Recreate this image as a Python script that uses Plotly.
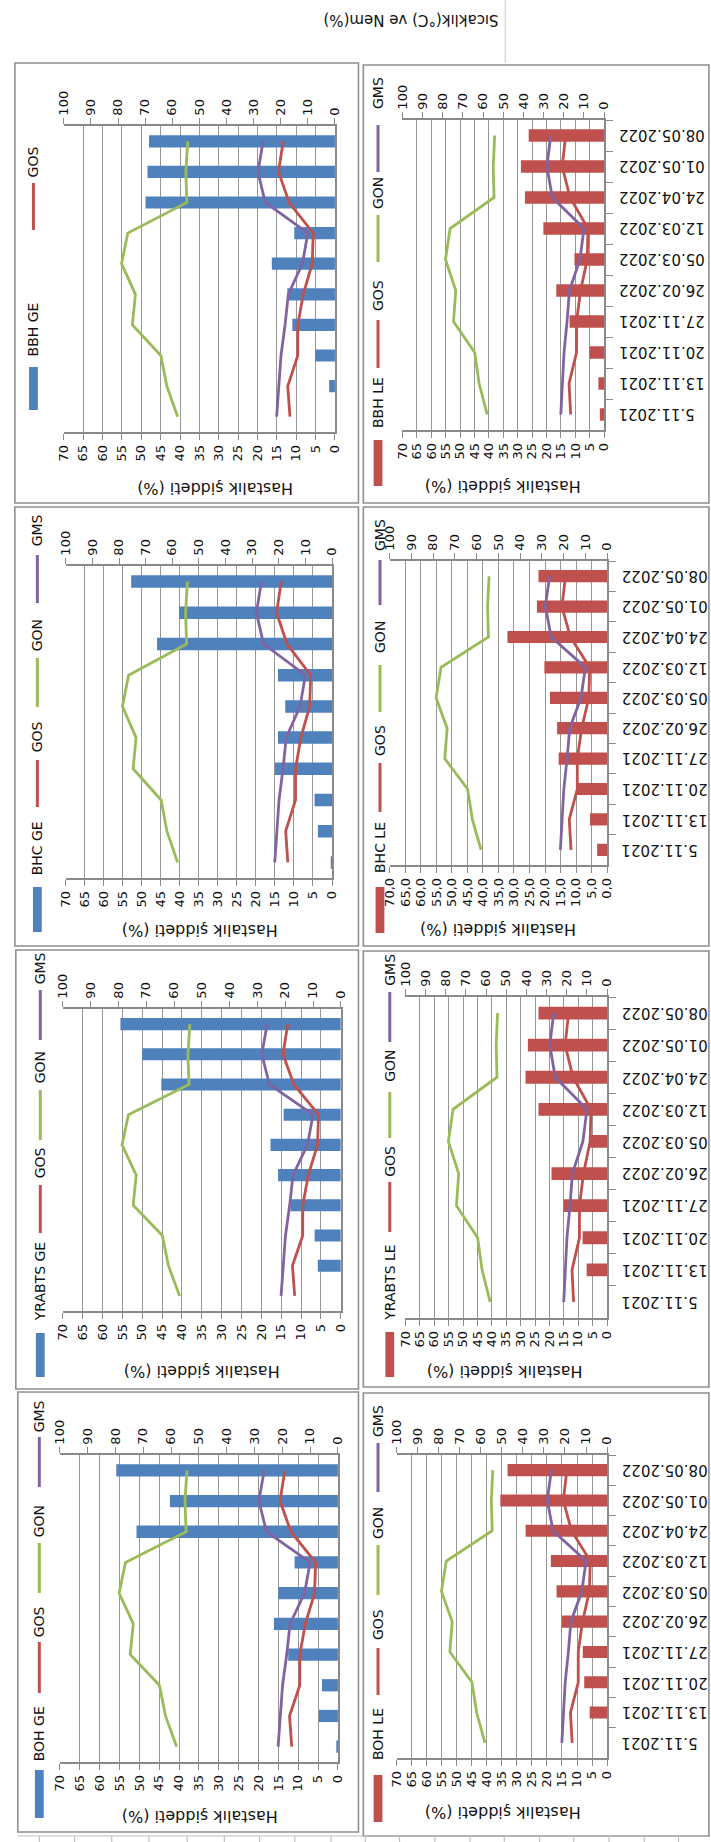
import plotly.graph_objects as go

W, H = 711, 1842

# ---------------- data ----------------
dates = ["5.11.2021", "13.11.2021", "20.11.2021", "27.11.2021", "26.02.2022",
         "05.03.2022", "12.03.2022", "24.04.2022", "01.05.2022", "08.05.2022"]

GOS = [16.6, 17.4, 13.7, 13.7, 11.7, 8.4, 8.0, 16.9, 20.8, 19.1]
GON = [58.0, 62.0, 64.2, 74.7, 73.6, 78.7, 76.4, 54.6, 55.0, 54.3]
GMS = [21.5, 20.8, 19.9, 18.4, 17.2, 12.0, 10.0, 25.7, 28.4, 26.5]

BBH_GE = [0, 1.5, 5.1, 11.0, 12.3, 16.3, 10.5, 48.9, 48.4, 48.0]
BBH_LE = [1.5, 2.0, 5.1, 12.0, 16.6, 10.3, 21.1, 27.5, 28.9, 26.2]
BHC_GE = [0.3, 3.7, 4.6, 15.0, 14.2, 12.3, 14.2, 46.0, 40.2, 52.8]
BHC_LE = [3.2, 5.5, 9.7, 15.6, 16.1, 18.4, 20.2, 32.1, 22.6, 22.1]
YRABTS_GE = [0, 5.8, 6.6, 12.7, 15.8, 17.7, 14.4, 45.2, 50.0, 55.5]
YRABTS_LE = [0, 7.1, 8.5, 15.1, 19.3, 5.9, 23.8, 28.3, 27.5, 23.8]
BOH_GE = [0.4, 4.8, 4.0, 12.5, 16.1, 15.0, 10.9, 50.7, 42.3, 55.8]
BOH_LE = [0, 5.8, 7.6, 8.1, 15.0, 16.8, 18.7, 27.1, 35.5, 33.1]

sev_ticks = list(range(0, 75, 5))
sev_labels = [str(v) for v in sev_ticks]
sev_labels_dec = [f"{v},0" for v in sev_ticks]
clim_ticks = list(range(0, 110, 10))
clim_labels = [str(v) for v in clim_ticks]

y_title = "Hastalık şiddeti (%)"
main_title = "Sıcaklık(°C) ve Nem(%)"

# ---------------- styling ----------------
BLUE = "#4F81BD"
RED = "#C0504D"
GREEN = "#9BBB59"
PURPLE = "#8064A2"
GRID = "#969696"
AXC = "#8a8a8a"
TXT = "#111111"
FONT = "DejaVu Sans"

panels = [
    dict(label="BBH GE", bars=BBH_GE, color=BLUE, plot=(57, 334, 126, 432), dates=False,
         box=(7, 358, 63, 503), title=(212, 489), lx=26, dec=False,
         legend=[("GOS", RED, "line", 162, 183, 230), ("BBH GE", BLUE, "rect", 329, 367, 410)]),
    dict(label="BBH LE", bars=BBH_LE, color=RED, plot=(403, 609, 120, 430), dates=True,
         box=(363, 716, 65, 503), title=(505, 487), lx=378, dec=False,
         legend=[("GMS", PURPLE, "line", 93, 125, 172), ("GON", GREEN, "line", 193, 215, 262),
                 ("GOS", RED, "line", 296, 320, 368), ("BBH LE", RED, "rect", 403, 440, 486)]),
    dict(label="BHC GE", bars=BHC_GE, color=BLUE, plot=(59, 331, 566, 878), dates=False,
         box=(7, 358, 507, 946), title=(196, 931), lx=30, dec=False,
         legend=[("GMS", PURPLE, "line", 530, 555, 603), ("GON", GREEN, "line", 635, 658, 707),
                 ("GOS", RED, "line", 737, 760, 807), ("BHC GE", BLUE, "rect", 848, 887, 932)]),
    dict(label="BHC LE", bars=BHC_LE, color=RED, plot=(390, 612, 561, 865), dates=True,
         box=(363, 716, 507, 946), title=(500, 930), lx=380, dec=True,
         legend=[("GMS", PURPLE, "line", 535, 560, 605), ("GON", GREEN, "line", 637, 665, 712),
                 ("GOS", RED, "line", 740, 763, 812), ("BHC LE", RED, "rect", 847, 887, 933)]),
    dict(label="YRABTS GE", bars=YRABTS_GE, color=BLUE, plot=(56, 340, 1009, 1311), dates=False,
         box=(8, 358, 950, 1389), title=(198, 1372), lx=33, dec=False,
         legend=[("GMS", PURPLE, "line", 968, 990, 1040), ("GON", GREEN, "line", 1067, 1090, 1140),
                 ("GOS", RED, "line", 1163, 1185, 1233), ("YRABTS GE", BLUE, "rect", 1282, 1333, 1377)]),
    dict(label="YRABTS LE", bars=YRABTS_LE, color=RED, plot=(406, 612, 997, 1318), dates=True,
         box=(363, 716, 951, 1387), title=(507, 1372), lx=390, dec=False,
         legend=[("GMS", PURPLE, "line", 970, 992, 1042), ("GON", GREEN, "line", 1066, 1092, 1138),
                 ("GOS", RED, "line", 1161, 1182, 1232), ("YRABTS LE", RED, "rect", 1283, 1332, 1377)]),
    dict(label="BOH GE", bars=BOH_GE, color=BLUE, plot=(53, 337, 1455, 1762), dates=False,
         box=(10, 358, 1392, 1832), title=(196, 1817), lx=32, dec=False,
         legend=[("GMS", PURPLE, "line", 1416, 1437, 1487), ("GON", GREEN, "line", 1521, 1543, 1593),
                 ("GOS", RED, "line", 1622, 1642, 1693), ("BOH GE", BLUE, "rect", 1734, 1770, 1818)]),
    dict(label="BOH LE", bars=BOH_LE, color=RED, plot=(397, 612, 1455, 1758), dates=True,
         box=(363, 716, 1393, 1836), title=(505, 1813), lx=378, dec=False,
         legend=[("GMS", PURPLE, "line", 1421, 1443, 1492), ("GON", GREEN, "line", 1523, 1545, 1595),
                 ("GOS", RED, "line", 1625, 1648, 1695), ("BOH LE", RED, "rect", 1734, 1775, 1822)]),
]


def px(x):
    return x / W


def py(y):
    return 1 - y / H


def nm(letter, n):
    return letter if n == 1 else f"{letter}{n}"


def key(letter, n):
    return f"{letter}axis" if n == 1 else f"{letter}axis{n}"


fig = go.Figure()
layout = {}
shapes = []
annotations = []

for i, p in enumerate(panels):
    k = i + 1
    xb = 2 * k - 1
    xl = 2 * k
    x0, x1, y0, y1 = p["plot"]
    yname = nm("y", k)
    xbname = nm("x", xb)
    xlname = nm("x", xl)

    fig.add_trace(go.Bar(x=p["bars"], y=dates, orientation="h", marker_color=p["color"],
                         marker_line_width=0, xaxis=xbname, yaxis=yname, name=p["label"]))
    for series, col, name in [(GOS, RED, "GOS"), (GON, GREEN, "GON"), (GMS, PURPLE, "GMS")]:
        fig.add_trace(go.Scatter(x=series, y=dates, mode="lines", line=dict(color=col, width=2.8),
                                 xaxis=xlname, yaxis=yname, name=name))

    layout[key("x", xb)] = dict(
        domain=[px(x0), px(x1)], range=[70, 0], anchor=yname, side="bottom",
        tickmode="array", tickvals=sev_ticks,
        ticktext=sev_labels_dec if p["dec"] else sev_labels,
        tickangle=-90, showgrid=True, gridcolor=GRID, gridwidth=1.3,
        showline=True, linecolor=AXC, linewidth=1.5, ticks="outside", ticklen=6,
        tickcolor=AXC, tickwidth=1.3, zeroline=False, fixedrange=True,
        tickfont=dict(family=FONT, size=13, color=TXT))
    layout[key("x", xl)] = dict(
        overlaying=xbname, range=[100, 0], anchor=yname, side="top",
        tickmode="array", tickvals=clim_ticks, ticktext=clim_labels,
        tickangle=-90, showgrid=False, showline=True, linecolor=AXC, linewidth=1.5,
        ticks="outside", ticklen=6, tickcolor=AXC, tickwidth=1.3, zeroline=False,
        fixedrange=True, tickfont=dict(family=FONT, size=13, color=TXT))
    layout[key("y", k)] = dict(
        domain=[py(y1), py(y0)], anchor=xbname, side="right", type="category",
        categoryorder="array", categoryarray=dates,
        ticks="outside" if p["dates"] else "", tickson="boundaries", ticklen=7,
        tickcolor=AXC, tickwidth=1.3, showline=True, linecolor=AXC, linewidth=1.5,
        showgrid=False, showticklabels=False, fixedrange=True)

    # date labels (upside-down) placed on the category axis
    if p["dates"]:
        for d in dates:
            annotations.append(dict(text=d, x=px(x1 + 13), y=d, xref="paper", yref=yname,
                                    xanchor="left", yanchor="middle", showarrow=False,
                                    textangle=180, font=dict(family=FONT, size=15, color=TXT)))

    bx0, bx1, by0, by1 = p["box"]
    shapes.append(dict(type="rect", xref="paper", yref="paper", x0=px(bx0), x1=px(bx1),
                       y0=py(by1), y1=py(by0), line=dict(color="#8f8f8f", width=1.6),
                       fillcolor="rgba(0,0,0,0)", layer="below"))

    tx, ty = p["title"]
    annotations.append(dict(text=y_title, x=px(tx), y=py(ty), xref="paper", yref="paper",
                            xanchor="center", yanchor="middle", showarrow=False, textangle=180,
                            font=dict(family=FONT, size=16, color=TXT)))

    lx = p["lx"]
    for (lab, col, kind, tcy, s0, s1) in p["legend"]:
        annotations.append(dict(text=lab, x=px(lx), y=py(tcy), xref="paper", yref="paper",
                                xanchor="center", yanchor="middle", showarrow=False,
                                textangle=-90, font=dict(family=FONT, size=14, color=TXT)))
        if kind == "line":
            shapes.append(dict(type="line", xref="paper", yref="paper", x0=px(lx), x1=px(lx),
                               y0=py(s1), y1=py(s0), line=dict(color=col, width=3)))
        else:
            shapes.append(dict(type="rect", xref="paper", yref="paper", x0=px(lx - 4.5),
                               x1=px(lx + 4.5), y0=py(s1), y1=py(s0),
                               line=dict(width=0), fillcolor=col))

# top title and decorative background lines
annotations.append(dict(text=main_title, x=px(412), y=py(20), xref="paper", yref="paper",
                        xanchor="center", yanchor="middle", showarrow=False, textangle=180,
                        font=dict(family=FONT, size=15, color=TXT)))
shapes.append(dict(type="line", xref="paper", yref="paper", x0=px(508), x1=px(508),
                   y0=py(63), y1=py(0), line=dict(color="#d0d0d0", width=1.2)))
shapes.append(dict(type="line", xref="paper", yref="paper", x0=px(10), x1=px(711),
                   y0=py(1836), y1=py(1836), line=dict(color="#c0c0c0", width=1.2)))
for tx in [32, 68, 106, 144, 183, 221, 257, 293, 330, 365, 400, 436, 472, 507, 543, 578, 614, 650, 685]:
    shapes.append(dict(type="line", xref="paper", yref="paper", x0=px(tx), x1=px(tx),
                       y0=py(1842), y1=py(1836), line=dict(color="#c0c0c0", width=1.2)))

fig.update_layout(
    width=W, height=H, autosize=False, margin=dict(l=0, r=0, t=0, b=0, pad=0),
    paper_bgcolor="white", plot_bgcolor="white", showlegend=False,
    bargap=0.6, shapes=shapes, annotations=annotations,
    font=dict(family=FONT, color=TXT), **layout)

fig.write_html("out.html")
